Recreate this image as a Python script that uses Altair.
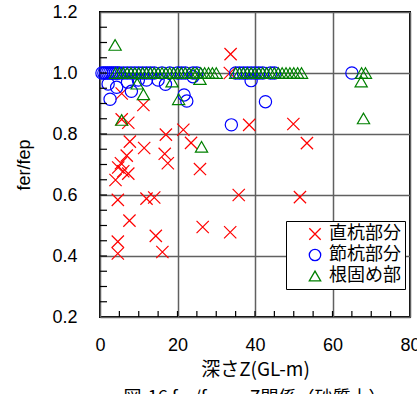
import altair as alt
import pandas as pd
import numpy as np

# 直杭部分 (red x)
red_z = [4.0, 4.6, 4.6, 4.6, 4.7, 5.4, 5.6, 5.6, 6.0, 6.9, 7.3, 7.3, 7.6, 7.7, 11.2, 11.4,
         12.0, 14.0, 14.4, 16.1, 16.7, 17.0, 17.5, 21.5, 23.5, 25.8, 26.5, 33.6, 33.7, 33.5,
         35.8, 38.5, 49.9, 51.6, 53.4]
red_v = [0.649, 0.408, 0.447, 0.584, 0.69, 0.704, 0.848, 0.933, 0.678, 0.729, 0.67, 0.837,
         0.516, 0.775, 0.895, 0.754, 0.588, 0.592, 0.466, 0.413, 0.735, 0.798, 0.704, 0.814,
         0.771, 0.685, 0.495, 0.478, 1.062, 1.0, 0.6, 0.83, 0.833, 0.593, 0.77]

# 節杭部分 (blue circle)
blue_z = [0.5, 1.0, 1.5, 2.0, 2.5, 3.0, 3.5, 4.0, 4.5, 5.0, 6.0, 7.0, 8.0, 9.0, 10.0, 11.0,
          12.0, 13.0, 14.0, 16.0, 18.0, 20.0, 21.0, 22.0, 24.0, 25.0, 35.0, 36.0, 37.0, 38.0,
          39.0, 40.0, 41.0, 42.0, 44.0, 45.0, 65.0,
          2.1, 4.3, 2.6, 7.1, 8.1, 9.9, 12.0, 15.0, 16.9, 21.7, 22.4, 24.0, 33.9, 39.0, 42.7]
blue_v = [1.0] * 37 + [0.964, 0.953, 0.914, 0.97, 0.94, 0.977, 0.977, 0.977, 0.963, 0.928,
                       0.908, 0.988, 0.83, 0.975, 0.906]

# 根固め部 (green triangle)
green_z = [4.0, 5.0, 6.0, 7.0, 8.0, 9.0, 10.0, 11.0, 12.0, 13.0, 14.0, 15.0, 16.0, 17.0,
           18.0, 19.0, 20.0, 21.0, 22.0, 23.0, 24.0, 25.0, 26.0, 27.0, 28.0, 29.0, 30.0,
           35.0, 36.0, 37.0, 38.0, 39.0, 40.0, 41.0, 42.0, 43.0, 44.0, 45.0, 46.0, 47.0,
           48.0, 49.0, 50.0, 51.0, 52.0, 67.5, 68.5,
           3.9, 5.6, 9.6, 11.2, 18.6, 20.3, 25.8, 26.2, 67.4, 68.0]
green_v = [1.0] * 47 + [1.092, 0.846, 0.965, 0.93, 0.972, 0.914, 0.98, 0.758, 0.972, 0.851]

names = ["直杭部分", "節杭部分", "根固め部"]
colors = ["#ff0000", "#0000ff", "#008000"]
shapes = ["M-1,-1L1,1M1,-1L-1,1", "circle", "triangle-up"]

df = pd.concat([
    pd.DataFrame({"z": red_z, "v": red_v, "s": names[0], "idx": 0}),
    pd.DataFrame({"z": blue_z, "v": blue_v, "s": names[1], "idx": 1}),
    pd.DataFrame({"z": green_z, "v": green_v, "s": names[2], "idx": 2}),
], ignore_index=True)

xscale = alt.Scale(domain=[0, 80], nice=False, zero=False)
yscale = alt.Scale(domain=[0.2, 1.2], nice=False, zero=False)

W, H = 310, 305

xaxis = alt.Axis(values=[0, 20, 40, 60, 80], title="深さZ(GL-m)", labelFlush=False,
                 labelPadding=19, labelFontSize=18, labelFont="Liberation Sans",
                 titleFont="Noto Sans CJK JP", titleFontSize=19, titlePadding=6)
yaxis = alt.Axis(values=[0.2, 0.4, 0.6, 0.8, 1.0, 1.2], format=".1f", title="fer/fep",
                 labelFlush=False, labelPadding=23, labelFontSize=18,
                 labelFont="Liberation Sans", titleFont="Liberation Sans",
                 titleFontSize=18, titlePadding=18)

points = alt.Chart(df).mark_point(filled=False, strokeWidth=1.2, size=150, opacity=1).encode(
    x=alt.X("z:Q", scale=xscale, axis=xaxis),
    y=alt.Y("v:Q", scale=yscale, axis=yaxis),
    color=alt.Color("s:N", scale=alt.Scale(domain=names, range=colors),
                    legend=alt.Legend(title=None, orient="none", legendX=186, legendY=209,
                                      labelFontSize=18, labelFont="Noto Sans CJK JP",
                                      labelColor="black", symbolSize=130,
                                      symbolStrokeWidth=1.3, strokeColor="black",
                                      fillColor="white", padding=4, symbolOffset=16,
                                      labelOffset=5, rowPadding=3)),
    shape=alt.Shape("s:N", scale=alt.Scale(domain=names, range=shapes), legend=None),
    order=alt.Order("idx:Q"),
)

xminor = np.arange(5, 80, 5).tolist()
yminor = [round(v, 2) for v in np.arange(0.25, 1.2, 0.05).tolist()]

xt = alt.Chart(pd.DataFrame({"z": xminor})).mark_rule(color="black", strokeWidth=1.2).encode(
    x=alt.X("z:Q", scale=xscale), y=alt.value(H), y2=alt.value(H - 6))
yt = alt.Chart(pd.DataFrame({"v": yminor})).mark_rule(color="black", strokeWidth=1.2).encode(
    y=alt.Y("v:Q", scale=yscale), x=alt.value(0), x2=alt.value(7))

chart = alt.layer(points, xt, yt).properties(
    width=W, height=H,
    autosize=alt.AutoSizeParams(type="none"),
    padding={"left": 100, "top": 12, "right": 7, "bottom": 77},
    background="white",
    title=alt.Title("図-16 fer/fep ～Z関係（砂質土）", orient="bottom", anchor="middle",
                    font="Noto Sans CJK JP", fontSize=18, fontWeight="normal",
                    color="black", offset=11, baseline="top"),
).configure_view(stroke="black", strokeWidth=2).configure_axis(
    grid=True, gridColor="#606060", gridWidth=1.5, gridOpacity=1, domain=False, ticks=False,
    labelColor="black", titleColor="black", titleFontWeight="normal"
)

chart.save("out.html", embed_options={"renderer": "svg", "actions": False})
